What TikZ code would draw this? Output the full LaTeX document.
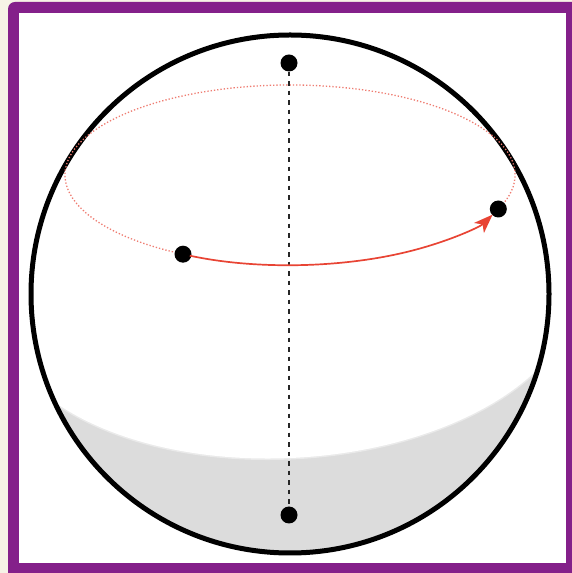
\documentclass[tikz,border=0pt]{standalone}
\usetikzlibrary{arrows.meta}
\definecolor{framepurple}{RGB}{132,32,138}
\definecolor{pagecream}{RGB}{246,243,230}
\definecolor{capgray}{RGB}{220,220,220}
\definecolor{orbitred}{RGB}{232,68,52}
\tikzset{
  pt/.style={circle,fill=black,inner sep=0pt,minimum size=17pt},
  axisline/.style={black!85,line width=1.5pt,dash pattern=on 4.5pt off 5pt},
  orbit/.style={orbitred!70,line width=1.3pt,dash pattern=on 1.3pt off 2pt},
  travel/.style={orbitred,line width=1.7pt,-{Stealth[length=19pt,width=14pt,inset=5pt]}},
}

\begin{document}
\begin{tikzpicture}[x=1pt,y=1pt]
\useasboundingbox (0,0) rectangle (572,573);
% frame
\fill[pagecream] (0,0) rectangle (572,573);
\begin{scope}
\clip (0,0) rectangle (572,573);
\fill[framepurple,rounded corners=7pt] (8,-10) rectangle (585,571);
\end{scope}
\fill[white] (19,10) rectangle (566,560);
% shaded bottom cap
\coordinate (o) at (290,279);
\coordinate (e) at (290,398);
\begin{scope}
\clip (o) circle[radius=259pt];
\fill[capgray] (o) circle[radius=259pt];
\fill[white,rotate around={3:(287,275)}] (287,275) ellipse[x radius=290pt,y radius=160pt];
\draw[white,opacity=0.4,line width=3pt,rotate around={3:(287,275)}] (287,275) ellipse[x radius=290pt,y radius=160pt];
\fill[white] (0,275) rectangle (572,573);
\end{scope}
\draw[line width=5pt] (o) circle[radius=259pt];
% orbit, hidden part
\draw[orbit] (e) ++(-22.2:225pt and 90pt) arc[start angle=-22.2,end angle=241.6,x radius=225pt,y radius=90pt];
% points
\node[pt] (top) at (289,510) {};
\node[pt] (bot) at (289,58) {};
\node[pt] (l) at (183,318.8) {};
\node[pt] (r) at (498.3,364) {};
\draw[axisline] (top) -- (bot);
\draw[travel,shorten <=7pt,shorten >=8pt] (l.center) arc[start angle=241.6,end angle=337.8,x radius=225pt,y radius=90pt];
\end{tikzpicture}
\end{document}
